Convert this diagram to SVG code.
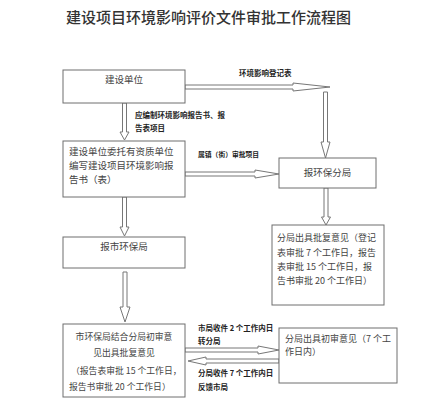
<svg xmlns="http://www.w3.org/2000/svg" width="429" height="410" viewBox="0 0 429 410">
<style>
.box{fill:#fff;stroke:#6e6e6e;stroke-width:1}
.arr{fill:#fff;stroke:#777;stroke-width:1;stroke-linejoin:miter}
.t{font-family:"Noto Sans CJK SC","Noto Sans",sans-serif;fill:#444;font-size:9.5px}
.b{font-family:"Noto Sans CJK SC","Noto Sans",sans-serif;fill:#222;font-weight:bold;font-size:7.5px}
.title{font-family:"Noto Sans CJK SC","Noto Sans",sans-serif;fill:#333;font-size:15px;font-weight:500}
</style>
<rect width="429" height="410" fill="#fff"/>
<text class="title" x="208.5" y="23" text-anchor="middle">建设项目环境影响评价文件审批工作流程图</text>

<g id="connectors">
<polygon class="arr" points="122.5,103 126.5,103 126.5,132 129,132 124.5,140 120,132 122.5,132"/>
<polygon class="arr" points="122.5,197 126.5,197 126.5,227 129,227 124.5,236 120,227 122.5,227"/>
<polygon class="arr" points="123,272 127,272 127,307 130,307 125,322 120,307 123,307"/>
<polygon class="arr" points="185,85 293,85 293,83 330,87 293,91 293,89 185,89"/>
<polygon class="arr" points="323.5,92 327.5,92 327.5,142 330,142 325.5,158 321,142 323.5,142"/>
<polygon class="arr" points="185,172 255,172 255,170 279,174 255,178 255,176 185,176"/>
<polygon class="arr" points="324,188 328,188 328,217 330.5,217 326,225 321.5,217 324,217"/>
<polygon class="arr" points="185,348 258,348 258,346 279,350 258,354 258,352 185,352"/>
<polygon class="arr" points="279,359 206,359 206,357 188,361 206,365 206,363 279,363"/>
<text class="b" x="239" y="76">环境影响登记表</text>
<text class="b" x="135" y="118">应编制环境影响报告书、报</text>
<text class="b" x="135" y="131">告表项目</text>
<text class="b" x="198" y="157" style="font-size:6.8px">属镇（街）审批项目</text>
<text class="b" x="198" y="331">市局收件 2 个工作内日</text>
<text class="b" x="198" y="344">转分局</text>
<text class="b" x="198" y="376">分局收件 7 个工作内日</text>
<text class="b" x="198" y="390">反馈市局</text>
</g>

<g id="n1">
<rect class="box" x="63" y="70" width="122" height="33"/>
<text class="t" x="124" y="83" text-anchor="middle">建设单位</text>
</g>
<g id="n2">
<rect class="box" x="63" y="141" width="122" height="56"/>
<text class="t" x="69" y="155">建设单位委托有资质单位</text>
<text class="t" x="69" y="169">编写建设项目环境影响报</text>
<text class="t" x="69" y="183">告书（表）</text>
</g>
<g id="n3">
<rect class="box" x="63" y="237" width="122" height="31"/>
<text class="t" x="124" y="250" text-anchor="middle">报市环保局</text>
</g>
<g id="n4">
<rect class="box" x="63" y="324" width="122" height="73"/>
<text class="t" x="124" y="340" text-anchor="middle" style="font-size:8.8px">市环保局结合分局初审意</text>
<text class="t" x="124" y="356" text-anchor="middle" style="font-size:8.8px">见出具批复意见</text>
<text class="t" x="71" y="374" style="font-size:8.8px">（报告表审批 15 个工作日，</text>
<text class="t" x="69" y="390" style="font-size:8.8px">报告书审批 20 个工作日）</text>
</g>
<g id="n5">
<rect class="box" x="279" y="158" width="97" height="30"/>
<text class="t" x="327.5" y="176" text-anchor="middle">报环保分局</text>
</g>
<g id="n6">
<rect class="box" x="272" y="225" width="112" height="80"/>
<text class="t" x="277" y="241" style="font-size:9px">分局出具批复意见（登记</text>
<text class="t" x="277" y="256" style="font-size:9px">表审批 7 个工作日，报告</text>
<text class="t" x="277" y="270" style="font-size:9px">表审批 15 个工作日，报</text>
<text class="t" x="277" y="284" style="font-size:9px">告书审批 20 个工作日）</text>
</g>
<g id="n7">
<rect class="box" x="279" y="328" width="118" height="55"/>
<text class="t" x="285" y="342" style="font-size:9px">分局出具初审意见（7 个工</text>
<text class="t" x="285" y="355" style="font-size:9px">作日内）</text>
</g>
</svg>
